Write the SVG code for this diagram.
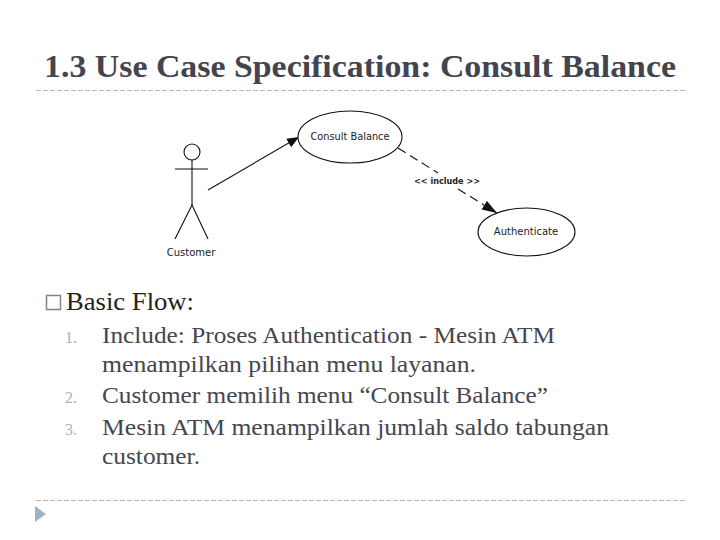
<svg xmlns="http://www.w3.org/2000/svg" width="720" height="540" viewBox="0 0 720 540">
<style>
.rule{stroke:#b4b9bf;stroke-width:1;stroke-dasharray:5 2;fill:none}
.t{font-family:"Liberation Serif","DejaVu Serif",serif}
.title{font-size:32px;font-weight:bold;fill:#44444e}
.body{font-size:24px;fill:#46464e}
.num{font-size:16px;fill:#a9b2bb}
.d{font-family:"DejaVu Sans","Liberation Sans",sans-serif;font-size:10px;fill:#222}
.shape{fill:none;stroke:#111;stroke-width:1.1}
.ell{fill:#fff;stroke:#111;stroke-width:1.1}
</style>
<defs>
<marker id="arr" markerUnits="userSpaceOnUse" markerWidth="14" markerHeight="12" refX="12" refY="5" orient="auto"><path d="M0 0L12 5L0 10Z" fill="#111"/></marker>
<marker id="arr2" markerUnits="userSpaceOnUse" markerWidth="16" markerHeight="12" refX="15" refY="5" orient="auto"><path d="M0 0L15 5L0 10Z" fill="#111"/></marker>
</defs>
<rect width="720" height="540" fill="#fff"/>
<text class="t title" x="44" y="77" textLength="632" lengthAdjust="spacingAndGlyphs">1.3 Use Case Specification: Consult Balance</text>
<line class="rule" x1="36" y1="90.500" x2="686" y2="90.500"/>
<g id="connectors">
<line class="shape" x1="208" y1="190" x2="299" y2="137" marker-end="url(#arr)"/>
<line class="shape" x1="398" y1="148" x2="438" y2="173" stroke-dasharray="9 5" stroke-width="1.500"/>
<line class="shape" x1="458" y1="189" x2="497" y2="213" stroke-dasharray="9 5" stroke-width="1.500" marker-end="url(#arr2)"/>
<text class="d" x="447" y="184" text-anchor="middle" font-weight="bold" textLength="66" lengthAdjust="spacingAndGlyphs" style="font-size:9.500px">&lt;&lt; include &gt;&gt;</text>
</g>
<g id="customer">
<circle class="shape" cx="192" cy="152" r="8"/>
<line class="shape" x1="192" y1="160" x2="192" y2="205"/>
<line class="shape" x1="175" y1="169" x2="208" y2="169" stroke-width="1.600"/>
<path class="shape" d="M175 239L192 205L208 239"/>
<text class="d" x="191" y="256" text-anchor="middle">Customer</text>
</g>
<g id="consult-balance">
<ellipse class="ell" cx="350" cy="137" rx="52" ry="26"/>
<text class="d" x="350" y="140" text-anchor="middle" textLength="79" lengthAdjust="spacingAndGlyphs">Consult Balance</text>
</g>
<g id="authenticate">
<ellipse class="ell" cx="526.500" cy="232" rx="48.500" ry="24"/>
<text class="d" x="526" y="235" text-anchor="middle">Authenticate</text>
</g>
<rect x="46.500" y="295.500" width="14" height="14" fill="none" stroke="#7c8594" stroke-width="1.500"/>
<text class="t" x="66" y="310" font-size="25" fill="#222" textLength="128" lengthAdjust="spacingAndGlyphs">Basic Flow:</text>
<text class="t num" x="65" y="343">1.</text>
<text class="t num" x="65" y="403">2.</text>
<text class="t num" x="65" y="435">3.</text>
<text class="t body" x="102" y="343" textLength="453" lengthAdjust="spacingAndGlyphs">Include: Proses Authentication - Mesin ATM</text>
<text class="t body" x="102" y="372" textLength="374" lengthAdjust="spacingAndGlyphs">menampilkan pilihan menu layanan.</text>
<text class="t body" x="102" y="403" textLength="446" lengthAdjust="spacingAndGlyphs">Customer memilih menu “Consult Balance”</text>
<text class="t body" x="102" y="435" textLength="507" lengthAdjust="spacingAndGlyphs">Mesin ATM menampilkan jumlah saldo tabungan</text>
<text class="t body" x="102" y="464" textLength="98" lengthAdjust="spacingAndGlyphs">customer.</text>
<line class="rule" x1="36" y1="500.500" x2="686" y2="500.500"/>
<path d="M35 506L46 514L35 522Z" fill="#9db2cb"/>
</svg>
